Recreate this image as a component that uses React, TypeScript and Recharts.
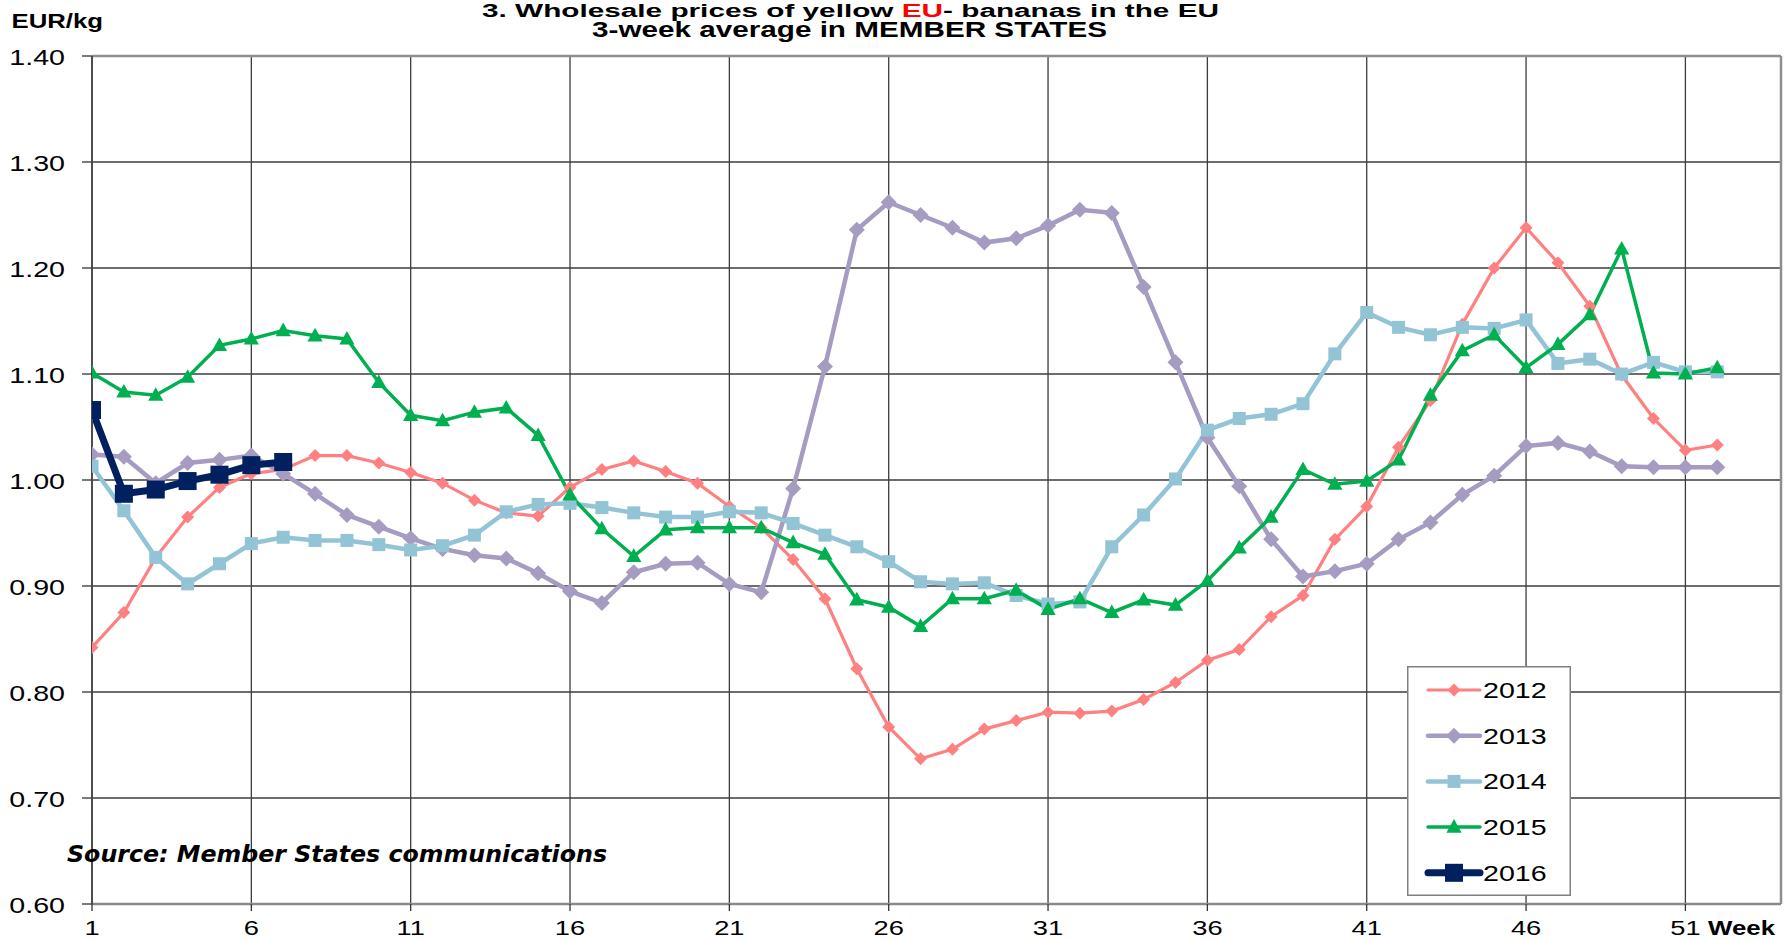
import React from 'react';
import { LineChart, Line, XAxis, YAxis, CartesianGrid, Legend, ReferenceLine } from 'recharts';

const weeks = [1, 2, 3, 4, 5, 6, 7, 8, 9, 10, 11, 12, 13, 14, 15, 16, 17, 18, 19, 20, 21, 22, 23, 24, 25, 26,
  27, 28, 29, 30, 31, 32, 33, 34, 35, 36, 37, 38, 39, 40, 41, 42, 43, 44, 45, 46, 47, 48, 49, 50, 51, 52];

const s2012 = [0.842, 0.875, 0.927, 0.965, 0.993, 1.006, 1.010, 1.023, 1.023, 1.016, 1.007, 0.997, 0.981, 0.969, 0.966,
  0.993, 1.010, 1.018, 1.008, 0.997, 0.975, 0.955, 0.925, 0.888, 0.822, 0.767, 0.737, 0.746, 0.765, 0.773, 0.781,
  0.780, 0.782, 0.793, 0.809, 0.830, 0.840, 0.871, 0.891, 0.944, 0.975, 1.031, 1.075, 1.147, 1.200, 1.238, 1.205,
  1.164, 1.099, 1.058, 1.028, 1.033];

const s2013 = [1.024, 1.022, 0.997, 1.016, 1.019, 1.023, 1.006, 0.987, 0.967, 0.956, 0.945, 0.935, 0.929, 0.926, 0.912,
  0.895, 0.884, 0.913, 0.921, 0.922, 0.902, 0.894, 0.992, 1.107, 1.236, 1.262, 1.250, 1.238, 1.224, 1.228, 1.240,
  1.255, 1.252, 1.182, 1.111, 1.040, 0.994, 0.944, 0.909, 0.914, 0.921, 0.944, 0.960, 0.986, 1.004, 1.032, 1.035,
  1.027, 1.013, 1.012, 1.012, 1.012];

const s2014 = [1.013, 0.971, 0.927, 0.902, 0.921, 0.940, 0.946, 0.943, 0.943, 0.939, 0.934, 0.938, 0.948, 0.970, 0.977,
  0.978, 0.974, 0.969, 0.965, 0.965, 0.970, 0.969, 0.959, 0.948, 0.937, 0.923, 0.904, 0.902, 0.903, 0.891, 0.883,
  0.885, 0.937, 0.967, 1.001, 1.047, 1.058, 1.062, 1.072, 1.119, 1.158, 1.144, 1.137, 1.144, 1.143, 1.151, 1.110,
  1.114, 1.100, 1.111, 1.102, 1.102];

const s2015 = [1.101, 1.083, 1.080, 1.097, 1.127, 1.133, 1.141, 1.136, 1.133, 1.092, 1.061, 1.056, 1.064, 1.068, 1.042,
  0.986, 0.954, 0.928, 0.953, 0.955, 0.955, 0.955, 0.941, 0.930, 0.887, 0.880, 0.862, 0.888, 0.888, 0.896, 0.878,
  0.888, 0.875, 0.887, 0.882, 0.905, 0.936, 0.965, 1.010, 0.996, 0.999, 1.019, 1.080, 1.122, 1.137, 1.106, 1.128,
  1.156, 1.218, 1.101, 1.100, 1.106];

const s2016 = [1.066, 0.987, 0.991, 0.999, 1.005, 1.014, 1.017];

const seriesNames = ['2012', '2013', '2014', '2015', '2016'];
const xTicks = [1, 6, 11, 16, 21, 26, 31, 36, 41, 46, 51];
const yTicks = [0.6, 0.7, 0.8, 0.9, 1.0, 1.1, 1.2, 1.3, 1.4];

const W = 1791;
const H = 940;
const FONT = '"Liberation Sans", Arial, sans-serif';
const SX = 1.3;

type Style = { key: string; name: string; color: string; width: number; shape: string; size: number };
const styles: Style[] = [
  { key: 'y2012', name: seriesNames[0], color: '#FF8080', width: 3.2, shape: 'diamond', size: 6.5 },
  { key: 'y2013', name: seriesNames[1], color: '#A69BC0', width: 4.5, shape: 'diamond', size: 8 },
  { key: 'y2014', name: seriesNames[2], color: '#92C4D6', width: 4.5, shape: 'square', size: 6.5 },
  { key: 'y2015', name: seriesNames[3], color: '#00B050', width: 3.5, shape: 'triangle', size: 8 },
  { key: 'y2016', name: seriesNames[4], color: '#002060', width: 7, shape: 'square', size: 9 },
];

function marker(shape: string, cx: number, cy: number, r: number, color: string, key?: string) {
  if (shape === 'diamond') {
    return <polygon key={key} points={`${cx},${cy - r} ${cx + r},${cy} ${cx},${cy + r} ${cx - r},${cy}`} fill={color} />;
  }
  if (shape === 'square') {
    return <rect key={key} x={cx - r} y={cy - r} width={2 * r} height={2 * r} fill={color} />;
  }
  return <polygon key={key} points={`${cx},${cy - r} ${cx + r * 0.95},${cy + r * 0.7} ${cx - r * 0.95},${cy + r * 0.7}`} fill={color} />;
}

const makeDot = (st: Style) => (props: any) => {
  const { cx, cy, index, value } = props;
  const k = `${st.key}-${index}`;
  if (cx == null || cy == null || value == null) return <g key={k} />;
  return marker(st.shape, cx, cy, st.size, st.color, k);
};

const XTick = (props: any) => {
  const { x, y, payload } = props;
  return (
    <text x={0} y={0} transform={`translate(${x} ${y + 22}) scale(${SX} 1)`} textAnchor="middle"
      fontFamily={FONT} fontSize={21} fill="#000">{String(payload.value)}</text>
  );
};

const YTick = (props: any) => {
  const { x, y, payload } = props;
  return (
    <text x={0} y={0} transform={`translate(${x} ${y + 9}) scale(${SX} 1)`} textAnchor="end"
      fontFamily={FONT} fontSize={22} fill="#000">{Number(payload.value).toFixed(2)}</text>
  );
};

const LegendBox = () => (
  <svg width={164} height={230} style={{ display: 'block' }}>
    <rect x={0.75} y={0.75} width={162.5} height={228.5} fill="#fff" stroke="#808080" strokeWidth={1.5} />
    {styles.map((st, i) => {
      const cy = 24 + i * 45.7;
      return (
        <g key={st.key}>
          <line x1={21} x2={73} y1={cy} y2={cy} stroke={st.color} strokeWidth={st.width} strokeLinecap="round" />
          {marker(st.shape, 47, cy, st.size, st.color)}
          <text x={0} y={0} transform={`translate(76 ${cy + 8}) scale(${SX} 1)`} fontFamily={FONT} fontSize={22} fill="#000">{st.name}</text>
        </g>
      );
    })}
  </svg>
);

export default function App() {
  const data = weeks.map((w, i) => ({
    week: w,
    y2012: s2012[i],
    y2013: s2013[i],
    y2014: s2014[i],
    y2015: s2015[i],
    y2016: i < s2016.length ? s2016[i] : null,
  }));
  return (
    <div style={{ position: 'absolute', left: 0, top: 0, width: W, height: H, background: '#fff' }}>
      <LineChart width={W} height={H} data={data} margin={{ top: 56, right: 10, bottom: 0, left: 0 }}>
        <CartesianGrid stroke="#3c3c3c" strokeWidth={1.3} />
        <XAxis dataKey="week" type="number" domain={[1, 54]} ticks={xTicks} interval={0} height={36}
          tickSize={7} tickMargin={2} axisLine={{ stroke: '#8a8a8a', strokeWidth: 2.5 }}
          tickLine={{ stroke: '#333', strokeWidth: 1.3 }} tick={XTick} allowDataOverflow />
        <YAxis type="number" domain={[0.6, 1.4]} ticks={yTicks} interval={0} width={92}
          tickSize={10} tickMargin={17} axisLine={{ stroke: '#4d4d4d', strokeWidth: 2 }}
          tickLine={{ stroke: '#333', strokeWidth: 1.3 }} tick={YTick} allowDataOverflow />
        <ReferenceLine y={1.4} stroke="#8f8f8f" strokeWidth={2.5} />
        <ReferenceLine x={54} stroke="#8f8f8f" strokeWidth={2.5} />
        {styles.map((st) => (
          <Line key={st.key} dataKey={st.key} name={st.name} stroke={st.color} strokeWidth={st.width}
            dot={makeDot(st)} activeDot={false} isAnimationActive={false} connectNulls={false} type="linear" />
        ))}
        <Legend layout="vertical" align="center" verticalAlign="middle"
          wrapperStyle={{ left: 1407, top: 666, width: 164, height: 230 }} content={() => <LegendBox />} />
      </LineChart>
      <svg width={W} height={H} style={{ position: 'absolute', left: 0, top: 0, pointerEvents: 'none' }}>
        <text x={850.5} y={16.5} textAnchor="middle" fontFamily={FONT} fontWeight="bold" fontSize={18}
          textLength={737} lengthAdjust="spacingAndGlyphs" fill="#000">
          3. Wholesale prices of yellow <tspan fill="#FF0000">EU</tspan>- bananas in the EU
        </text>
        <text x={849.5} y={37} textAnchor="middle" fontFamily={FONT} fontWeight="bold" fontSize={22}
          textLength={515} lengthAdjust="spacingAndGlyphs" fill="#000">3-week average in MEMBER STATES</text>
        <text x={11.5} y={28.3} fontFamily={FONT} fontWeight="bold" fontSize={21}
          textLength={91.5} lengthAdjust="spacingAndGlyphs" fill="#000">EUR/kg</text>
        <text x={67} y={862} fontFamily='"DejaVu Sans", Verdana, sans-serif' fontWeight="bold" fontStyle="italic" fontSize={23}
          textLength={540} lengthAdjust="spacingAndGlyphs" fill="#000">Source: Member States communications</text>
        <text x={1708} y={935} fontFamily={FONT} fontWeight="bold" fontSize={20}
          textLength={67} lengthAdjust="spacingAndGlyphs" fill="#000">Week</text>
      </svg>
    </div>
  );
}
